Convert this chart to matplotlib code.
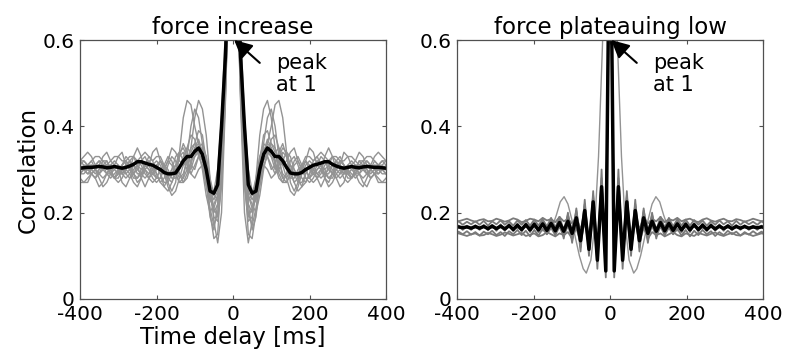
import numpy as np
import matplotlib
matplotlib.use("Agg")
import matplotlib.pyplot as plt

plt.rcParams['font.family'] = ['DejaVu Sans']
plt.rcParams['axes.unicode_minus'] = False

# ---------------- data ----------------
# Left panel ("force increase"): lags 0..400 ms every 10 ms (curves are symmetric)
lags_left = np.arange(0, 401, 10)

mean_left = [1.00, 0.78, 0.56, 0.40, 0.265, 0.245, 0.25, 0.30, 0.335, 0.35, 0.342,
             0.33, 0.33, 0.32, 0.305, 0.292, 0.29, 0.29, 0.293, 0.30, 0.305,
             0.31, 0.312, 0.315, 0.318, 0.318, 0.312, 0.308, 0.305, 0.303, 0.305,
             0.307, 0.305, 0.304, 0.306, 0.307, 0.306, 0.305, 0.305, 0.304, 0.303]

trials_left = [
    [1.0, 0.82, 0.55, 0.30, 0.15, 0.14, 0.20, 0.28, 0.33, 0.36, 0.40, 0.45, 0.46, 0.42, 0.34, 0.27,
     0.25, 0.27, 0.30, 0.32, 0.31, 0.29, 0.28, 0.29, 0.31, 0.32, 0.31, 0.29, 0.28, 0.29, 0.31,
     0.32, 0.31, 0.29, 0.28, 0.29, 0.30, 0.31, 0.30, 0.29, 0.29],
    [1.0, 0.78, 0.45, 0.20, 0.13, 0.18, 0.28, 0.38, 0.44, 0.46, 0.42, 0.35, 0.30, 0.28, 0.29, 0.31,
     0.30, 0.28, 0.26, 0.27, 0.29, 0.31, 0.32, 0.31, 0.29, 0.28, 0.29, 0.31, 0.32, 0.31, 0.30,
     0.29, 0.28, 0.29, 0.31, 0.32, 0.31, 0.30, 0.29, 0.30, 0.31],
    [1.0, 0.80, 0.52, 0.32, 0.22, 0.20, 0.24, 0.32, 0.38, 0.39, 0.36, 0.34, 0.35, 0.33, 0.30, 0.28,
     0.28, 0.30, 0.31, 0.30, 0.28, 0.29, 0.31, 0.33, 0.32, 0.30, 0.29, 0.30, 0.32, 0.31, 0.29,
     0.28, 0.30, 0.32, 0.31, 0.29, 0.30, 0.32, 0.31, 0.30, 0.30],
    [1.0, 0.75, 0.48, 0.30, 0.24, 0.22, 0.20, 0.24, 0.30, 0.34, 0.33, 0.30, 0.31, 0.34, 0.33, 0.30,
     0.27, 0.25, 0.26, 0.29, 0.31, 0.30, 0.28, 0.26, 0.28, 0.31, 0.30, 0.28, 0.26, 0.27, 0.30,
     0.31, 0.29, 0.27, 0.26, 0.28, 0.30, 0.29, 0.27, 0.27, 0.28],
    [1.0, 0.85, 0.62, 0.42, 0.30, 0.25, 0.23, 0.26, 0.31, 0.33, 0.37, 0.38, 0.35, 0.31, 0.32, 0.34,
     0.35, 0.32, 0.30, 0.32, 0.35, 0.34, 0.31, 0.30, 0.33, 0.35, 0.33, 0.30, 0.31, 0.34, 0.33,
     0.31, 0.32, 0.34, 0.33, 0.31, 0.31, 0.33, 0.34, 0.33, 0.32],
    [1.0, 0.80, 0.50, 0.28, 0.20, 0.17, 0.21, 0.27, 0.31, 0.30, 0.28, 0.29, 0.32, 0.31, 0.28, 0.25,
     0.24, 0.26, 0.29, 0.30, 0.28, 0.27, 0.28, 0.30, 0.28, 0.26, 0.27, 0.29, 0.30, 0.28, 0.27,
     0.28, 0.30, 0.29, 0.27, 0.26, 0.28, 0.29, 0.28, 0.27, 0.27],
    [1.0, 0.83, 0.58, 0.36, 0.26, 0.24, 0.27, 0.33, 0.36, 0.35, 0.33, 0.32, 0.33, 0.35, 0.34, 0.31,
     0.29, 0.29, 0.31, 0.33, 0.33, 0.32, 0.33, 0.34, 0.33, 0.32, 0.33, 0.33, 0.32, 0.32, 0.33,
     0.33, 0.32, 0.31, 0.32, 0.33, 0.33, 0.32, 0.31, 0.32, 0.32],
    [1.0, 0.77, 0.47, 0.27, 0.19, 0.21, 0.26, 0.31, 0.34, 0.36, 0.35, 0.32, 0.29, 0.27, 0.27, 0.29,
     0.31, 0.32, 0.30, 0.28, 0.28, 0.30, 0.32, 0.31, 0.29, 0.29, 0.31, 0.32, 0.31, 0.29, 0.29,
     0.30, 0.31, 0.31, 0.30, 0.29, 0.30, 0.31, 0.31, 0.31, 0.30],
    [1.0, 0.81, 0.54, 0.34, 0.25, 0.23, 0.25, 0.29, 0.32, 0.34, 0.36, 0.35, 0.32, 0.29, 0.28, 0.30,
     0.29, 0.27, 0.27, 0.29, 0.31, 0.30, 0.29, 0.30, 0.32, 0.31, 0.29, 0.28, 0.29, 0.31, 0.30,
     0.28, 0.29, 0.31, 0.31, 0.30, 0.29, 0.30, 0.31, 0.30, 0.29],
    [1.0, 0.79, 0.50, 0.31, 0.23, 0.24, 0.28, 0.33, 0.35, 0.33, 0.30, 0.31, 0.34, 0.36, 0.33, 0.29,
     0.27, 0.28, 0.31, 0.32, 0.30, 0.29, 0.30, 0.31, 0.30, 0.31, 0.33, 0.32, 0.30, 0.29, 0.30,
     0.31, 0.30, 0.30, 0.31, 0.32, 0.31, 0.30, 0.30, 0.31, 0.32],
    [1.0, 0.84, 0.60, 0.38, 0.22, 0.16, 0.19, 0.27, 0.36, 0.42, 0.44, 0.40, 0.33, 0.28, 0.27, 0.29,
     0.32, 0.33, 0.31, 0.28, 0.27, 0.28, 0.30, 0.31, 0.30, 0.28, 0.28, 0.30, 0.31, 0.30, 0.28,
     0.28, 0.29, 0.31, 0.30, 0.29, 0.28, 0.29, 0.30, 0.30, 0.29],
    [1.0, 0.76, 0.46, 0.26, 0.18, 0.19, 0.25, 0.30, 0.33, 0.33, 0.31, 0.29, 0.30, 0.32, 0.34, 0.33,
     0.30, 0.28, 0.29, 0.31, 0.32, 0.31, 0.29, 0.28, 0.29, 0.30, 0.31, 0.30, 0.29, 0.30, 0.31,
     0.30, 0.29, 0.29, 0.30, 0.31, 0.30, 0.29, 0.29, 0.30, 0.30],
    [1.0, 0.82, 0.56, 0.35, 0.24, 0.21, 0.23, 0.29, 0.34, 0.37, 0.35, 0.31, 0.28, 0.27, 0.29, 0.32,
     0.33, 0.31, 0.28, 0.27, 0.29, 0.32, 0.33, 0.31, 0.28, 0.27, 0.29, 0.32, 0.33, 0.31, 0.29,
     0.28, 0.30, 0.32, 0.32, 0.30, 0.28, 0.29, 0.31, 0.32, 0.31],
]

# Right panel ("force plateauing low"): lags 0..407 ms every 11 ms (extrema of the oscillation)
lags_right = np.arange(0, 408, 11)

mean_right = [1.00, 0.065, 0.26, 0.09, 0.225, 0.115, 0.205, 0.135, 0.188, 0.152, 0.18, 0.157,
              0.177, 0.158, 0.175, 0.159, 0.174, 0.16, 0.173, 0.16, 0.172, 0.161, 0.171,
              0.161, 0.17, 0.162, 0.169, 0.163, 0.169, 0.163, 0.168, 0.164, 0.168, 0.164,
              0.167, 0.165, 0.167, 0.165]

trials_right = [
    [1.0, 0.05, 0.30, 0.07, 0.25, 0.10, 0.23, 0.11, 0.21, 0.13, 0.20, 0.14, 0.19, 0.15, 0.185,
     0.15, 0.18, 0.155, 0.178, 0.155, 0.176, 0.156, 0.175, 0.157, 0.174, 0.158, 0.173, 0.158,
     0.172, 0.159, 0.172, 0.16, 0.171, 0.16, 0.17, 0.16, 0.17, 0.161],
    [1.0, 0.08, 0.24, 0.10, 0.21, 0.12, 0.20, 0.13, 0.18, 0.14, 0.17, 0.145, 0.168, 0.148, 0.165,
     0.15, 0.163, 0.147, 0.16, 0.145, 0.158, 0.148, 0.16, 0.15, 0.157, 0.146, 0.155, 0.148,
     0.158, 0.15, 0.156, 0.147, 0.155, 0.149, 0.157, 0.15, 0.156, 0.15],
    [1.0, 0.09, 0.28, 0.11, 0.24, 0.13, 0.22, 0.145, 0.205, 0.155, 0.195, 0.16, 0.19, 0.165,
     0.188, 0.168, 0.185, 0.17, 0.184, 0.17, 0.183, 0.172, 0.182, 0.17, 0.18, 0.172, 0.182,
     0.173, 0.18, 0.17, 0.181, 0.172, 0.18, 0.173, 0.179, 0.172, 0.18, 0.174],
    [1.0, 0.07, 0.27, 0.085, 0.235, 0.11, 0.215, 0.12, 0.20, 0.135, 0.19, 0.145, 0.182, 0.15,
     0.178, 0.153, 0.176, 0.155, 0.174, 0.157, 0.173, 0.158, 0.172, 0.159, 0.171, 0.16, 0.17,
     0.16, 0.17, 0.161, 0.17, 0.162, 0.169, 0.162, 0.169, 0.163, 0.168, 0.163],
    [1.0, 0.10, 0.25, 0.12, 0.22, 0.14, 0.20, 0.16, 0.19, 0.175, 0.185, 0.18, 0.19, 0.178, 0.185,
     0.182, 0.188, 0.18, 0.184, 0.186, 0.181, 0.178, 0.184, 0.187, 0.182, 0.179, 0.183, 0.186,
     0.181, 0.18, 0.185, 0.183, 0.179, 0.182, 0.186, 0.183, 0.18, 0.182],
    [1.0, 0.08, 0.22, 0.10, 0.19, 0.12, 0.18, 0.13, 0.165, 0.14, 0.155, 0.148, 0.152, 0.145, 0.15,
     0.155, 0.148, 0.145, 0.152, 0.149, 0.146, 0.153, 0.15, 0.147, 0.151, 0.154, 0.149, 0.146,
     0.15, 0.153, 0.148, 0.147, 0.152, 0.15, 0.146, 0.149, 0.152, 0.15],
]

# one slow trial with large side lobes (right panel)
slow_lags = [0, 10, 20, 30, 40, 50, 62, 70, 80, 90, 100, 110, 120, 130, 140, 150, 160, 175,
             190, 210, 240, 270, 300, 330, 360, 400]
slow_vals = [1.0, 0.86, 0.58, 0.33, 0.17, 0.09, 0.06, 0.07, 0.10, 0.14, 0.185, 0.22, 0.237,
             0.225, 0.195, 0.17, 0.16, 0.158, 0.163, 0.168, 0.163, 0.167, 0.164, 0.167, 0.165,
             0.166]

titles = ["force increase", "force plateauing low"]
xticks = [-400, -200, 0, 200, 400]
yticks = [0, 0.2, 0.4, 0.6]
ytick_labels = ["0", "0.2", "0.4", "0.6"]


def mirror(lags, vals):
    lags = np.asarray(lags, float)
    vals = np.asarray(vals, float)
    return (np.concatenate([-lags[:0:-1], lags]),
            np.concatenate([vals[:0:-1], vals]))


# ---------------- figure ----------------
fig = plt.figure(figsize=(7.85, 3.56), dpi=100)
ax1 = fig.add_axes([80 / 785, 1 - 299 / 356, 306 / 785, 259 / 356])
ax2 = fig.add_axes([457 / 785, 1 - 299 / 356, 306 / 785, 259 / 356])

gray = "#939393"

for tr in trials_left:
    x, y = mirror(lags_left, tr)
    ax1.plot(x, y, color=gray, lw=1.0)
x, y = mirror(lags_left, mean_left)
ax1.plot(x, y, color="black", lw=2.5)

x, y = mirror(slow_lags, slow_vals)
ax2.plot(x, y, color=gray, lw=1.0)
for tr in trials_right:
    x, y = mirror(lags_right, tr)
    ax2.plot(x, y, color="#7a7a7a", lw=1.3)
x, y = mirror(lags_right, mean_right)
ax2.plot(x, y, color="black", lw=2.5)

spine_col = "#505050"
for ax, title in zip([ax1, ax2], titles):
    ax.set_xlim(-400, 400)
    ax.set_ylim(0, 0.6)
    ax.set_xticks(xticks)
    ax.set_xticklabels([str(t) for t in xticks])
    ax.set_yticks(yticks)
    ax.set_yticklabels(ytick_labels)
    ax.tick_params(direction="in", length=3, width=0.8, color=spine_col,
                   top=True, right=True, labelsize=14.5, pad=4)
    for s in ax.spines.values():
        s.set_color(spine_col)
        s.set_linewidth(0.9)
    ax.set_title(title, fontsize=16.5, pad=4)
    ax.annotate("", xy=(3, 0.6), xytext=(70, 0.547),
                arrowprops=dict(arrowstyle="-|>,head_length=0.9,head_width=0.45",
                                color="black", lw=1.5, mutation_scale=12,
                                shrinkA=0, shrinkB=0),
                annotation_clip=False)
    ax.text(113, 0.57, "peak\nat 1", fontsize=15, va="top", ha="left",
            linespacing=1.15)

ax1.set_ylabel("Correlation", fontsize=16.5, labelpad=2)
ax1.set_xlabel("Time delay [ms]", fontsize=16.5, labelpad=2)

fig.savefig("out.png", dpi=100)
